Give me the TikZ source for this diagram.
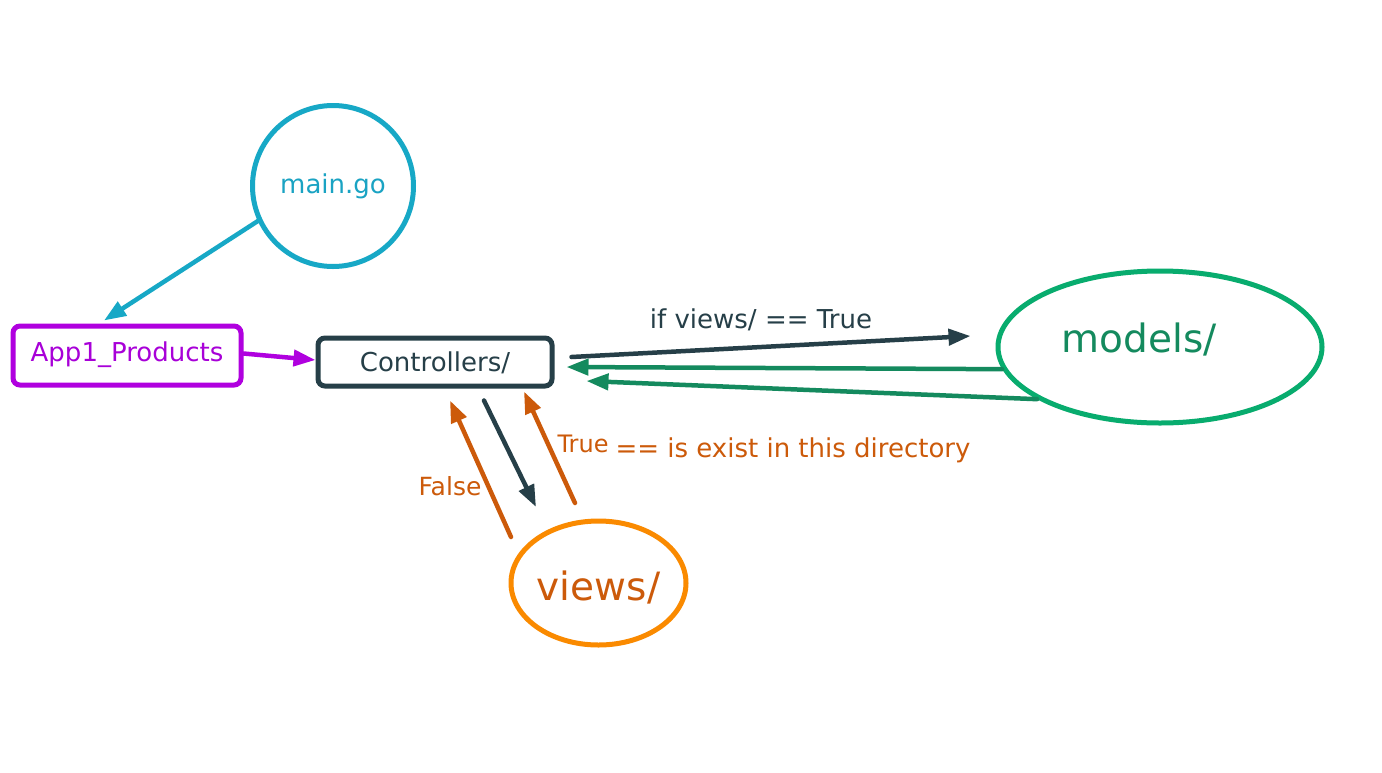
\documentclass[tikz,border=0pt]{standalone}
\usepackage{fontspec}
\setmainfont{DejaVu Sans}
\usetikzlibrary{arrows.meta,shapes.geometric}
\definecolor{cyanc}{HTML}{17A8C6}
\definecolor{cyant}{HTML}{1AA3C3}
\definecolor{purp}{HTML}{B000DF}
\definecolor{purpt}{HTML}{A800D8}
\definecolor{dark}{HTML}{263F48}
\definecolor{greene}{HTML}{08AC6E}
\definecolor{greena}{HTML}{148A5E}
\definecolor{oranged}{HTML}{FA8A00}
\definecolor{orangt}{HTML}{CC5A0A}
\tikzset{
  conn/.style={line width=4.5pt, line cap=round, -{Triangle[length=22pt,width=16pt]}},
  fs/.style={font=\fontsize{#1pt}{#1pt}\selectfont},
  box/.style={draw, rectangle, rounded corners=7pt, line width=5pt, inner sep=0pt},
  lbl/.style={anchor=base, inner sep=0pt}
}
\begin{document}
\begin{tikzpicture}[x=1pt,y=-1pt]
\useasboundingbox (0,0) rectangle (1382,772);
\fill[white] (0,0) rectangle (1382,772);

\node[circle, draw=cyanc, line width=5pt, minimum size=161pt, inner sep=0pt, text=cyant, fs=26] (main) at (333,186) {\raisebox{-7pt}[0pt][0pt]{main.go}};
\node[box, draw=purp, text=purpt, minimum width=228pt, minimum height=59pt, fs=26] (app) at (127,355.5) {\raisebox{-5.5pt}[0pt][0pt]{App1\_Products}};
\node[box, draw=dark, text=dark, minimum width=234pt, minimum height=48pt, fs=26] (ctrl) at (435,362) {\raisebox{-9pt}[0pt][0pt]{Controllers/}};
\node[ellipse, draw=greene, line width=5pt, minimum width=324pt, minimum height=152pt, inner sep=0pt] (models) at (1160,347) {};
\node[lbl, text=greena, fs=39] (modelslbl) at (1139,352) {models/};
\node[ellipse, draw=oranged, line width=5pt, minimum width=175pt, minimum height=124pt, inner sep=0pt, text=orangt, fs=39] (views) at (598.5,583) {\raisebox{-17pt}[0pt][0pt]{views/}};

% connectors
\draw[conn, cyanc] (main.205.6) -- ([xshift=-23pt,yshift=3pt]app.north);
\draw[conn, purp] ([yshift=2pt]app.east) -- ([yshift=2pt]ctrl.west);
\draw[conn, dark] ([xshift=17pt,yshift=5pt]ctrl.east) -- ([xshift=-25pt,yshift=11pt]models.west);
\node[lbl, text=dark, fs=26] (iflbl) at (761,328) {if views/ == True};
\draw[conn, greena] (models.188.3) -- ([xshift=12pt,yshift=-5pt]ctrl.east);
\draw[conn, greena] (models.203.1) -- ([xshift=32pt,yshift=-19pt]ctrl.east);
\draw[conn, dark] ([xshift=49pt,yshift=-12pt]ctrl.south) -- ([xshift=-62.5pt,yshift=76pt]views.center);
\draw[conn, orangt] ([xshift=-87.5pt,yshift=46pt]views.center) -- ([xshift=15pt,yshift=-12pt]ctrl.south);
\draw[conn, orangt] ([xshift=-23.5pt,yshift=80pt]views.center) -- ([xshift=89pt,yshift=-3pt]ctrl.south);
\node[lbl, text=orangt, fs=25] (falselbl) at (450,495) {False};
\node[lbl, text=orangt, fs=24] (truelbl) at (583,452) {True};
\node[lbl, text=orangt, fs=26] (existlbl) at (793,457.5) {== is exist in this directory};
\end{tikzpicture}
\end{document}
